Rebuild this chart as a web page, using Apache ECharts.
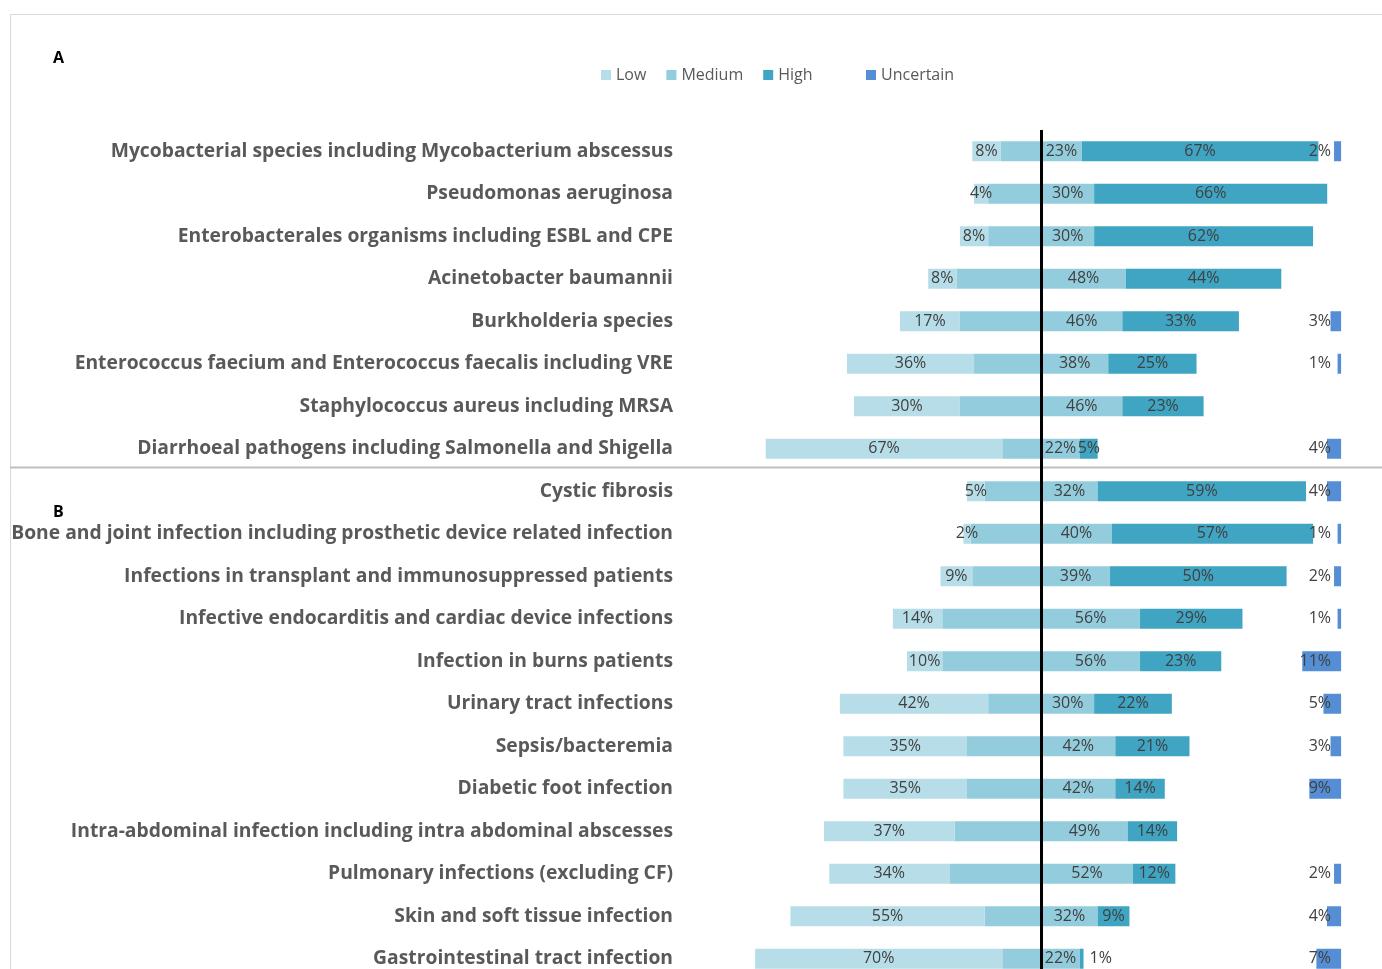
<!DOCTYPE html>
<html lang="en">
<head>
    <meta charset="UTF-8">
    <title>Resistance concern by organism and infection</title>
    <script src="https://cdn.jsdelivr.net/npm/echarts@6/dist/echarts.min.js"></script>
    <style>
        html, body { margin: 0; padding: 0; background: #fff; }
    </style>
</head>
<body>
    <div id="myChart" style="width: 1382px; height: 969px;"></div>
    <script>
        // categories, top to bottom (A: organisms, B: infections)
        const categories = [
            'Mycobacterial species including Mycobacterium abscessus',
            'Pseudomonas aeruginosa',
            'Enterobacterales organisms including ESBL and CPE',
            'Acinetobacter baumannii',
            'Burkholderia species',
            'Enterococcus faecium and Enterococcus faecalis including VRE',
            'Staphylococcus aureus including MRSA',
            'Diarrhoeal pathogens including Salmonella and Shigella',
            'Cystic fibrosis',
            'Bone and joint infection including prosthetic device related infection',
            'Infections in transplant and immunosuppressed patients',
            'Infective endocarditis and cardiac device infections',
            'Infection in burns patients',
            'Urinary tract infections',
            'Sepsis/bacteremia',
            'Diabetic foot infection',
            'Intra-abdominal infection including intra abdominal abscesses',
            'Pulmonary infections (excluding CF)',
            'Skin and soft tissue infection',
            'Gastrointestinal tract infection'
        ];
        const low       = [8, 4, 8, 8, 17, 36, 30, 67, 5, 2, 9, 14, 10, 42, 35, 35, 37, 34, 55, 70];
        const medium    = [23, 30, 30, 48, 46, 38, 46, 22, 32, 40, 39, 56, 56, 30, 42, 42, 49, 52, 32, 22];
        const high      = [67, 66, 62, 44, 33, 25, 23, 5, 59, 57, 50, 29, 23, 22, 21, 14, 14, 12, 9, 1];
        const uncertain = [2, 0, 0, 0, 3, 1, 0, 4, 4, 1, 2, 1, 11, 5, 3, 9, 0, 2, 4, 7];

        const colors = { low: '#B7DEE8', medium: '#93CDDD', high: '#3FA5C3', uncertain: '#558ED5' };
        const labelColor = '#404040';
        const font = '"Open Sans", "DejaVu Sans", sans-serif';

        var myChart = echarts.init(document.getElementById('myChart'));

        // label helper: show percentage, hide zeros
        function pctLabel(values) {
            return function (p) {
                const v = values[p.dataIndex];
                return v ? v + '%' : '';
            };
        }

        const labelStyle = { show: true, color: labelColor, fontSize: 16, fontFamily: font };

        // tiny high values get their label outside the bar
        const highData = high.map(function (v) {
            if (v > 0 && v < 2) {
                return { value: v, label: { position: 'right', distance: 6 } };
            }
            return v;
        });

        option = {
            animation: false,
            backgroundColor: '#fff',
            textStyle: { fontFamily: font },
            legend: [
                {
                    left: 596, top: 62,
                    itemWidth: 10, itemHeight: 10, itemGap: 20,
                    icon: 'rect',
                    textStyle: { color: '#595959', fontSize: 16, fontFamily: font },
                    data: ['Low', 'Medium', 'High']
                },
                {
                    left: 861, top: 62,
                    itemWidth: 10, itemHeight: 10,
                    icon: 'rect',
                    textStyle: { color: '#595959', fontSize: 16, fontFamily: font },
                    data: ['Uncertain']
                }
            ],
            // the last row runs past the bottom edge, as in the original figure
            grid: [
                { left: 688, top: 130, width: 671, height: 850, outerBoundsMode: 'none', containLabel: false },
                { left: 1270.5, top: 130, width: 70.6, height: 850, outerBoundsMode: 'none', containLabel: false }
            ],
            xAxis: [
                { gridIndex: 0, type: 'value', min: -100, max: 90, show: false },
                { gridIndex: 1, type: 'value', min: 0, max: 20, inverse: true, show: false }
            ],
            yAxis: [
                {
                    gridIndex: 0, type: 'category', data: categories, inverse: true,
                    axisLine: { show: true, lineStyle: { color: '#e3e3e3', width: 1 } },
                    axisTick: { show: false },
                    axisLabel: {
                        color: '#595959', fontSize: 19.3, fontWeight: 'bold', fontFamily: font, margin: 15
                    }
                },
                {
                    gridIndex: 1, type: 'category', data: categories, inverse: true, show: false
                }
            ],
            graphic: [
                { type: 'line', shape: { x1: 10.5, y1: 14, x2: 10.5, y2: 969 }, style: { stroke: '#d9d9d9', lineWidth: 1 } },
                { type: 'line', shape: { x1: 10, y1: 14.5, x2: 1382, y2: 14.5 }, style: { stroke: '#d9d9d9', lineWidth: 1 } },
                { type: 'line', shape: { x1: 10, y1: 467.5, x2: 1382, y2: 467.5 }, style: { stroke: '#bfbfbf', lineWidth: 2 } },
                { type: 'text', left: 53, top: 50, style: { text: 'A', fontSize: 16, fontWeight: 'bold', fill: '#000', fontFamily: font } },
                { type: 'text', left: 53, top: 504, style: { text: 'B', fontSize: 16, fontWeight: 'bold', fill: '#000', fontFamily: font } }
            ],
            series: [
                {
                    name: 'Medium', type: 'bar', stack: 'all', barWidth: 20,
                    xAxisIndex: 0, yAxisIndex: 0,
                    itemStyle: { color: colors.medium },
                    data: medium.map(function (v) { return -v / 2; })
                },
                {
                    name: 'Low', type: 'bar', stack: 'all', barWidth: 20,
                    xAxisIndex: 0, yAxisIndex: 0,
                    itemStyle: { color: colors.low },
                    label: Object.assign({ position: 'inside', formatter: pctLabel(low) }, labelStyle),
                    data: low.map(function (v) { return -v; })
                },
                {
                    name: 'Medium', type: 'bar', stack: 'all', barWidth: 20,
                    xAxisIndex: 0, yAxisIndex: 0,
                    itemStyle: { color: colors.medium },
                    label: Object.assign({ position: 'inside', formatter: pctLabel(medium) }, labelStyle),
                    data: medium.map(function (v) { return v / 2; }),
                    markLine: {
                        silent: true, symbol: 'none',
                        label: { show: false },
                        lineStyle: { color: '#000', width: 3, type: 'solid' },
                        data: [{ xAxis: 0 }]
                    }
                },
                {
                    name: 'High', type: 'bar', stack: 'all', barWidth: 20,
                    xAxisIndex: 0, yAxisIndex: 0,
                    itemStyle: { color: colors.high },
                    label: Object.assign({ position: 'inside', formatter: pctLabel(high) }, labelStyle),
                    data: highData
                },
                {
                    name: 'Uncertain', type: 'bar', barWidth: 20,
                    xAxisIndex: 1, yAxisIndex: 1,
                    itemStyle: { color: colors.uncertain },
                    label: Object.assign({ position: 'insideRight', distance: 10, formatter: pctLabel(uncertain) }, labelStyle),
                    data: uncertain
                }
            ]
        };
        myChart.setOption(option);
    </script>
</body>
</html>
